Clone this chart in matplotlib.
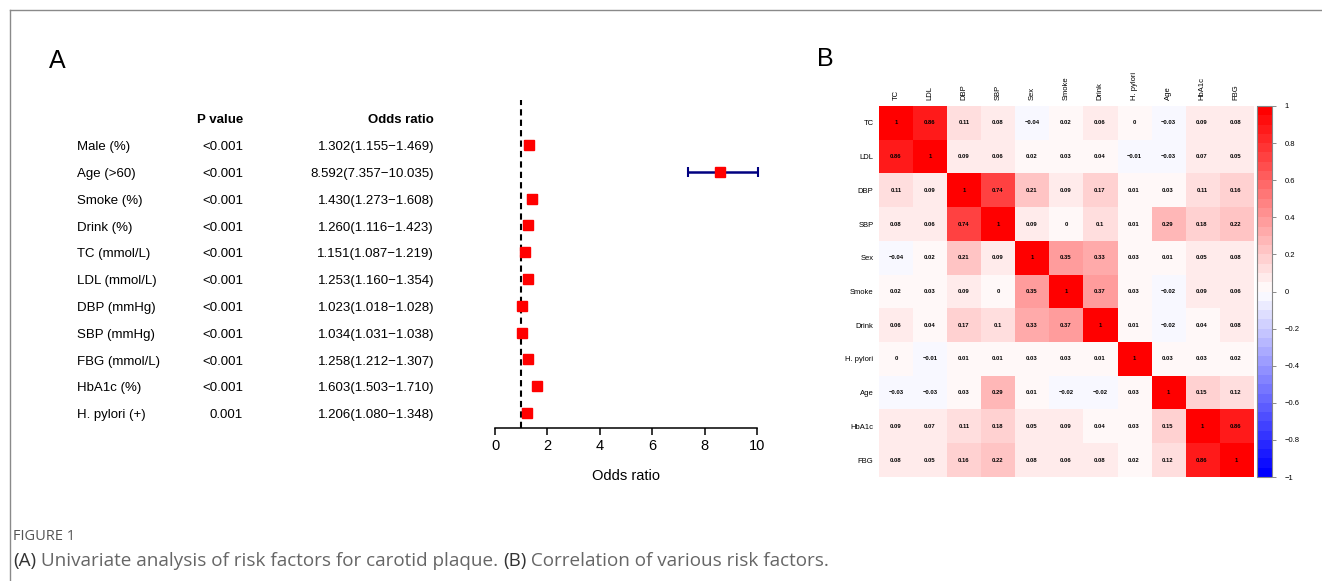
import numpy as np
import matplotlib.pyplot as plt
import matplotlib.transforms as mtransforms
from matplotlib.colors import LinearSegmentedColormap, Normalize
from matplotlib.lines import Line2D

plt.rcParams['font.family'] = ['Liberation Sans', 'DejaVu Sans']

# 數據: 單變量分析 (森林圖)
factors = ["Male (%)", "Age (>60)", "Smoke (%)", "Drink (%)", "TC (mmol/L)",
           "LDL (mmol/L)", "DBP (mmHg)", "SBP (mmHg)", "FBG (mmol/L)",
           "HbA1c (%)", "H. pylori (+)"]
p_values = ["<0.001"] * 10 + ["0.001"]
odds = [1.302, 8.592, 1.430, 1.260, 1.151, 1.253, 1.023, 1.034, 1.258, 1.603, 1.206]
ci_low = [1.155, 7.357, 1.273, 1.116, 1.087, 1.160, 1.018, 1.031, 1.212, 1.503, 1.080]
ci_high = [1.469, 10.035, 1.608, 1.423, 1.219, 1.354, 1.028, 1.038, 1.307, 1.710, 1.348]

# 數據: 相關係數矩陣
variables = ["TC", "LDL", "DBP", "SBP", "Sex", "Smoke", "Drink", "H. pylori",
             "Age", "HbA1c", "FBG"]
corr = np.array([
    [1, 0.86, 0.11, 0.08, -0.04, 0.02, 0.06, 0, -0.03, 0.09, 0.08],
    [0.86, 1, 0.09, 0.06, 0.02, 0.03, 0.04, -0.01, -0.03, 0.07, 0.05],
    [0.11, 0.09, 1, 0.74, 0.21, 0.09, 0.17, 0.01, 0.03, 0.11, 0.16],
    [0.08, 0.06, 0.74, 1, 0.09, 0, 0.1, 0.01, 0.29, 0.18, 0.22],
    [-0.04, 0.02, 0.21, 0.09, 1, 0.35, 0.33, 0.03, 0.01, 0.05, 0.08],
    [0.02, 0.03, 0.09, 0, 0.35, 1, 0.37, 0.03, -0.02, 0.09, 0.06],
    [0.06, 0.04, 0.17, 0.1, 0.33, 0.37, 1, 0.01, -0.02, 0.04, 0.08],
    [0, -0.01, 0.01, 0.01, 0.03, 0.03, 0.01, 1, 0.03, 0.03, 0.02],
    [-0.03, -0.03, 0.03, 0.29, 0.01, -0.02, -0.02, 0.03, 1, 0.15, 0.12],
    [0.09, 0.07, 0.11, 0.18, 0.05, 0.09, 0.04, 0.03, 0.15, 1, 0.86],
    [0.08, 0.05, 0.16, 0.22, 0.08, 0.06, 0.08, 0.02, 0.12, 0.86, 1],
])
cbar_ticks = [-1, -0.8, -0.6, -0.4, -0.2, 0, 0.2, 0.4, 0.6, 0.8, 1]

W, H = 1322, 581
fig = plt.figure(figsize=(W / 100, H / 100), dpi=100)


def fx(px):
    return px / W


def fy(py):
    return 1 - py / H


def fmt(v):
    return "{:g}".format(v).replace("-", "\u2212")


# 外框 (上、左)
fig.add_artist(Line2D([fx(10), 1], [fy(10), fy(10)], color="#8a8a8a", lw=1.0))
fig.add_artist(Line2D([fx(10), fx(10)], [fy(10), 0], color="#8a8a8a", lw=1.0))

fig.text(fx(57), fy(61), "A", fontsize=18, ha="center", va="center")
fig.text(fx(825), fy(59), "B", fontsize=18, ha="center", va="center")

# ---- A: 森林圖 ----
ax = fig.add_axes([fx(495), fy(428), fx(757) - fx(495), fy(100) - fy(428)])
rows = np.arange(len(factors))
ax.set_xlim(0, 10)
ax.set_ylim(10.56, -1.68)
ax.axvline(1, color="black", ls=(0, (3, 2)), lw=1.5, zorder=1)
xerr = [np.array(odds) - np.array(ci_low), np.array(ci_high) - np.array(odds)]
ax.errorbar(odds, rows, xerr=xerr, fmt="none", ecolor="#000080", elinewidth=1.8,
            capsize=3.5, capthick=1.5, clip_on=False, zorder=2)
ax.plot(odds, rows, "s", color="red", ms=7.5, zorder=3, clip_on=False)
for s in ["top", "right", "left"]:
    ax.spines[s].set_visible(False)
ax.spines["bottom"].set_bounds(0, 10)
ax.spines["bottom"].set_linewidth(1.1)
ax.set_yticks([])
ax.set_xticks(range(0, 11, 2))
ax.tick_params(axis="x", labelsize=10.5, length=5, width=1.1, pad=3)
ax.set_xlabel("Odds ratio", fontsize=10.5, labelpad=11.5)

tr = mtransforms.blended_transform_factory(fig.transFigure, ax.transData)
dy = 0.08  # 文字基線微調
ax.text(fx(243), -1 + dy, "P value", transform=tr, ha="right", va="center",
        fontsize=9.5, fontweight="bold")
ax.text(fx(434), -1 + dy, "Odds ratio", transform=tr, ha="right", va="center",
        fontsize=9.5, fontweight="bold")
for i in rows:
    ax.text(fx(77), i + dy, factors[i], transform=tr, ha="left", va="center", fontsize=9.5)
    ax.text(fx(243), i + dy, p_values[i], transform=tr, ha="right", va="center", fontsize=9.5)
    label = "{:.3f}({:.3f}\u2212{:.3f})".format(odds[i], ci_low[i], ci_high[i])
    ax.text(fx(434), i + dy, label, transform=tr, ha="right", va="center", fontsize=9.5)

# ---- B: 相關熱圖 ----
cmap = LinearSegmentedColormap.from_list("bwr_r", ["#0000FF", "#FFFFFF", "#FF0000"], N=40)
norm = Normalize(-1, 1)
hax = fig.add_axes([fx(879), fy(477), fx(1253) - fx(879), fy(106) - fy(477)])
im = hax.imshow(corr, cmap=cmap, norm=norm, aspect="auto")
hax.xaxis.tick_top()
hax.set_xticks(range(len(variables)))
hax.set_xticklabels(variables, rotation=90, fontsize=5.5)
hax.set_yticks(range(len(variables)))
hax.set_yticklabels(variables, fontsize=5.5)
hax.tick_params(length=0, pad=4)
for s in hax.spines.values():
    s.set_visible(False)
for i in range(len(variables)):
    for j in range(len(variables)):
        hax.text(j, i, fmt(corr[i, j]), ha="center", va="center",
                 fontsize=4.2, fontweight="bold", color="black")

cax = fig.add_axes([fx(1257), fy(477), fx(1272) - fx(1257), fy(106) - fy(477)])
cb = fig.colorbar(im, cax=cax, ticks=cbar_ticks)
cb.ax.set_yticklabels([fmt(t) for t in cbar_ticks])
cb.ax.tick_params(labelsize=5.5, length=3, width=0.6, color="#777777", pad=6)
cb.outline.set_edgecolor("#888888")
cb.outline.set_linewidth(0.8)

# ---- 圖說 ----
cap_font = ["Open Sans", "DejaVu Sans"]
fig.text(fx(13), fy(536), "FIGURE 1", fontsize=10.5, color="#555555",
         family=cap_font, va="center")
pieces = [("(A)", "#333333"),
          (" Univariate analysis of risk factors for carotid plaque. ", "#666666"),
          ("(B)", "#333333"),
          (" Correlation of various risk factors.", "#666666")]
renderer = fig.canvas.get_renderer()
x = 13
for txt, col in pieces:
    t = fig.text(fx(x), fy(561), txt, fontsize=13.6, color=col,
                 family=cap_font, va="center")
    x += t.get_window_extent(renderer=renderer).width

fig.savefig("out.png", dpi=100)
